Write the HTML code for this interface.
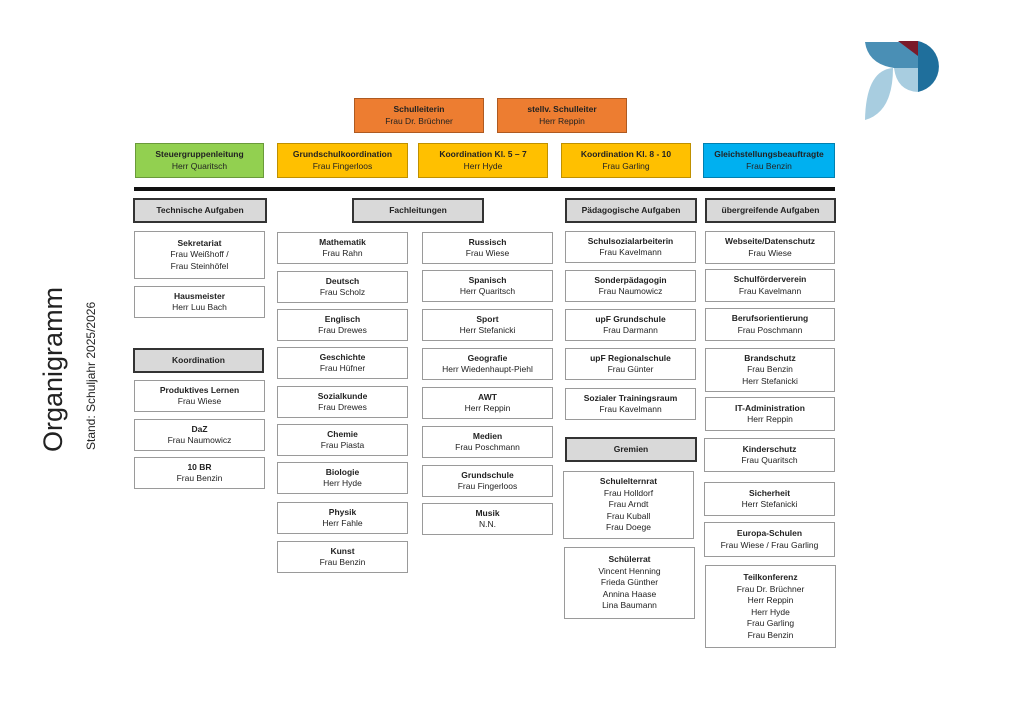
<!DOCTYPE html>
<html><head><meta charset="utf-8"><style>
body{margin:0;width:1024px;height:721px;background:#fff;position:relative;overflow:hidden;font-family:"Liberation Sans",sans-serif;color:#222}
.b{position:absolute;box-sizing:border-box;border:1px solid #9a9a9a;background:#fff;display:flex;flex-direction:column;justify-content:center;align-items:center;text-align:center;font-size:8.5px;line-height:11.5px}
.b b{font-weight:bold}
.h{border:2px solid #333;background:#d9d9d9;font-weight:bold}
.o{background:#ed7d31;border-color:#ae5a21}
.g{background:#92d050;border-color:#6a9a3a}
.y{background:#ffc000;border-color:#bf9000}
.c{background:#00b0f0;border-color:#0080b0}
.v{position:absolute;transform:rotate(-90deg);transform-origin:left top;white-space:nowrap}
</style></head><body>
<svg style="position:absolute;left:0;top:0" width="1024" height="721">
<path d="M865,42 L918,42 L918,68 L894,68 Q868,64 865,42Z" fill="#4a8fb5"/>
<path d="M898,41 L918,41 L918,56Z" fill="#7a1a2a"/>
<path d="M918,41 A26,26 0 0 1 918,92Z" fill="#1f6f9c"/>
<path d="M894,68 L918,68 L918,92 Q897,91 894,68Z" fill="#a8cde0"/>
<path d="M893,68 Q866,70 865,120 Q893,112 893,68Z" fill="#a8cde0"/>
<rect x="134" y="187" width="701" height="4" fill="#111"/>
</svg>
<div class="v" style="left:38px;top:452px;font-size:27px;line-height:30px">Organigramm</div>
<div class="v" style="left:83px;top:450px;font-size:12px;line-height:16px">Stand: Schuljahr 2025/2026</div>

<div class="b o" style="left:354px;top:98px;width:130px;height:35px"><b>Schulleiterin</b>Frau Dr. Brüchner</div>
<div class="b o" style="left:497px;top:98px;width:130px;height:35px"><b>stellv. Schulleiter</b>Herr Reppin</div>
<div class="b g" style="left:135px;top:143px;width:129px;height:35px"><b>Steuergruppenleitung</b>Herr Quaritsch</div>
<div class="b y" style="left:277px;top:143px;width:131px;height:35px"><b>Grundschulkoordination</b>Frau Fingerloos</div>
<div class="b y" style="left:418px;top:143px;width:130px;height:35px"><b>Koordination Kl. 5 – 7</b>Herr Hyde</div>
<div class="b y" style="left:561px;top:143px;width:130px;height:35px"><b>Koordination Kl. 8 - 10</b>Frau Garling</div>
<div class="b c" style="left:703px;top:143px;width:132px;height:35px"><b>Gleichstellungsbeauftragte</b>Frau Benzin</div>

<div class="b h" style="left:133px;top:198px;width:134px;height:25px">Technische Aufgaben</div>
<div class="b h" style="left:352px;top:198px;width:132px;height:25px">Fachleitungen</div>
<div class="b h" style="left:565px;top:198px;width:132px;height:25px">Pädagogische Aufgaben</div>
<div class="b h" style="left:705px;top:198px;width:131px;height:25px">übergreifende Aufgaben</div>
<div class="b h" style="left:133px;top:348px;width:131px;height:25px">Koordination</div>
<div class="b h" style="left:565px;top:437px;width:132px;height:25px">Gremien</div>

<div class="b" style="left:134px;top:231px;width:131px;height:48px"><b>Sekretariat</b>Frau Weißhoff /<br>Frau Steinhöfel</div>
<div class="b" style="left:134px;top:286px;width:131px;height:32px"><b>Hausmeister</b>Herr Luu Bach</div>
<div class="b" style="left:134px;top:380px;width:131px;height:32px"><b>Produktives Lernen</b>Frau Wiese</div>
<div class="b" style="left:134px;top:419px;width:131px;height:32px"><b>DaZ</b>Frau Naumowicz</div>
<div class="b" style="left:134px;top:457px;width:131px;height:32px"><b>10 BR</b>Frau Benzin</div>

<div class="b" style="left:277px;top:232px;width:131px;height:32px"><b>Mathematik</b>Frau Rahn</div>
<div class="b" style="left:277px;top:271px;width:131px;height:32px"><b>Deutsch</b>Frau Scholz</div>
<div class="b" style="left:277px;top:309px;width:131px;height:32px"><b>Englisch</b>Frau Drewes</div>
<div class="b" style="left:277px;top:347px;width:131px;height:32px"><b>Geschichte</b>Frau Hüfner</div>
<div class="b" style="left:277px;top:386px;width:131px;height:32px"><b>Sozialkunde</b>Frau Drewes</div>
<div class="b" style="left:277px;top:424px;width:131px;height:32px"><b>Chemie</b>Frau Piasta</div>
<div class="b" style="left:277px;top:462px;width:131px;height:32px"><b>Biologie</b>Herr Hyde</div>
<div class="b" style="left:277px;top:502px;width:131px;height:32px"><b>Physik</b>Herr Fahle</div>
<div class="b" style="left:277px;top:541px;width:131px;height:32px"><b>Kunst</b>Frau Benzin</div>

<div class="b" style="left:422px;top:232px;width:131px;height:32px"><b>Russisch</b>Frau Wiese</div>
<div class="b" style="left:422px;top:270px;width:131px;height:32px"><b>Spanisch</b>Herr Quaritsch</div>
<div class="b" style="left:422px;top:309px;width:131px;height:32px"><b>Sport</b>Herr Stefanicki</div>
<div class="b" style="left:422px;top:348px;width:131px;height:32px"><b>Geografie</b>Herr Wiedenhaupt-Piehl</div>
<div class="b" style="left:422px;top:387px;width:131px;height:32px"><b>AWT</b>Herr Reppin</div>
<div class="b" style="left:422px;top:426px;width:131px;height:32px"><b>Medien</b>Frau Poschmann</div>
<div class="b" style="left:422px;top:465px;width:131px;height:32px"><b>Grundschule</b>Frau Fingerloos</div>
<div class="b" style="left:422px;top:503px;width:131px;height:32px"><b>Musik</b>N.N.</div>

<div class="b" style="left:565px;top:231px;width:131px;height:32px"><b>Schulsozialarbeiterin</b>Frau Kavelmann</div>
<div class="b" style="left:565px;top:270px;width:131px;height:32px"><b>Sonderpädagogin</b>Frau Naumowicz</div>
<div class="b" style="left:565px;top:309px;width:131px;height:32px"><b>upF Grundschule</b>Frau Darmann</div>
<div class="b" style="left:565px;top:348px;width:131px;height:32px"><b>upF Regionalschule</b>Frau Günter</div>
<div class="b" style="left:565px;top:388px;width:131px;height:32px"><b>Sozialer Trainingsraum</b>Frau Kavelmann</div>
<div class="b" style="left:563px;top:471px;width:131px;height:68px"><b>Schulelternrat</b>Frau Holldorf<br>Frau Arndt<br>Frau Kuball<br>Frau Doege</div>
<div class="b" style="left:564px;top:547px;width:131px;height:72px"><b>Schülerrat</b>Vincent Henning<br>Frieda Günther<br>Annina Haase<br>Lina Baumann</div>

<div class="b" style="left:705px;top:231px;width:130px;height:33px"><b>Webseite/Datenschutz</b>Frau Wiese</div>
<div class="b" style="left:705px;top:269px;width:130px;height:33px"><b>Schulförderverein</b>Frau Kavelmann</div>
<div class="b" style="left:705px;top:308px;width:130px;height:33px"><b>Berufsorientierung</b>Frau Poschmann</div>
<div class="b" style="left:705px;top:348px;width:130px;height:44px"><b>Brandschutz</b>Frau Benzin<br>Herr Stefanicki</div>
<div class="b" style="left:705px;top:397px;width:130px;height:34px"><b>IT-Administration</b>Herr Reppin</div>
<div class="b" style="left:704px;top:438px;width:131px;height:34px"><b>Kinderschutz</b>Frau Quaritsch</div>
<div class="b" style="left:704px;top:482px;width:131px;height:34px"><b>Sicherheit</b>Herr Stefanicki</div>
<div class="b" style="left:704px;top:522px;width:131px;height:35px"><b>Europa-Schulen</b>Frau Wiese / Frau Garling</div>
<div class="b" style="left:705px;top:565px;width:131px;height:83px"><b>Teilkonferenz</b>Frau Dr. Brüchner<br>Herr Reppin<br>Herr Hyde<br>Frau Garling<br>Frau Benzin</div>
</body></html>
